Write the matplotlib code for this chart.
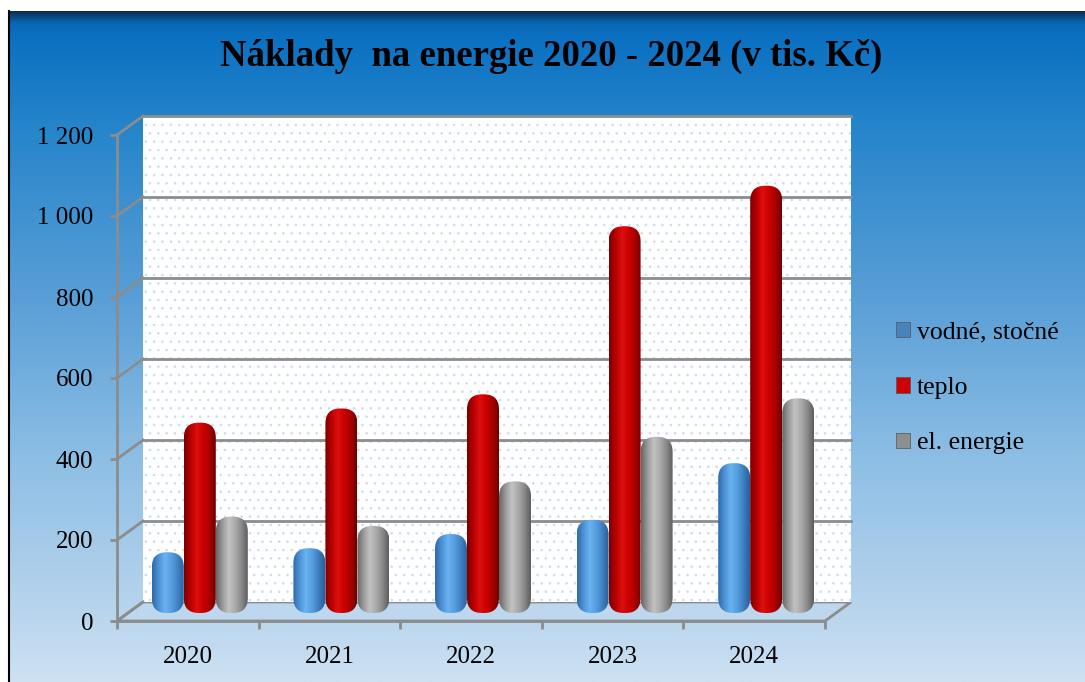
import matplotlib.pyplot as plt
import numpy as np
from matplotlib.colors import LinearSegmentedColormap, to_rgb
from matplotlib.patches import FancyBboxPatch, Polygon, Patch
from matplotlib.lines import Line2D

# data (v tis. Kč)
years = ['2020', '2021', '2022', '2023', '2024']
vodne = [150, 160, 195, 230, 370]
teplo = [470, 505, 540, 955, 1055]
el_energie = [238, 215, 325, 435, 530]
series_names = ['vodné, stočné', 'teplo', 'el. energie']
yticks = [0, 200, 400, 600, 800, 1000, 1200]

W, H = 1085, 682
fig = plt.figure(figsize=(W / 100, H / 100), dpi=100)
fig.patch.set_facecolor('white')
serif = ['Liberation Serif', 'DejaVu Serif']
plt.rcParams['hatch.linewidth'] = 0.6

# background gradient
bg = fig.add_axes([8 / W, 0, 1 - 8 / W, (H - 11) / H])
bg.set_axis_off()
stops = [(0, '#0b2f55'), (11, '#0a66b3'), (24, '#0a70c2'), (110, '#2484ca'),
         (290, '#5a9fd7'), (440, '#8bbde4'), (590, '#b5d3ec'), (671, '#cde1f3')]
rows = np.linspace(0, 671, 400)
grad = np.array([[np.interp(r, [s[0] for s in stops], [to_rgb(s[1])[k] for s in stops])
                  for k in range(3)] for r in rows])
bg.imshow(grad[:, None, :], extent=[0, 1, 0, 1], aspect='auto')
fig.add_artist(Line2D([8.5 / W, 8.5 / W], [0, (H - 11) / H], color='black', lw=1.5))

# front plane of the 3d plot
x0, x1, yb, yt = 117, 825, 621, 135
ax = fig.add_axes([x0 / W, (H - yb) / H, (x1 - x0) / W, (yb - yt) / H])
ax.set_xlim(0, 5)
ax.set_ylim(0, 1200)
ax.patch.set_alpha(0)
px_x = 5 / (x1 - x0)
px_y = 1200 / (yb - yt)
DX, DY = 26 * px_x, 19 * px_y     # depth of the box
MX, MY = 12 * px_x, 8 * px_y      # bars stand in the middle
gray = '#8c8c8c'

# floor
ax.add_patch(Polygon([(0, 0), (5, 0), (5 + DX, DY), (DX, DY)], closed=True,
                     facecolor='#bcd7ee', edgecolor=gray, lw=2, zorder=1, clip_on=False))
# back wall with dots
ax.add_patch(plt.Rectangle((DX, DY), 5, 1200, facecolor='white', lw=0, zorder=1, clip_on=False))
ax.add_patch(plt.Rectangle((DX, DY), 5, 1200, facecolor='none', edgecolor='#c9dbf5',
                           lw=0, hatch='..', zorder=1.1, clip_on=False))
for v in yticks[1:]:
    ax.plot([DX, 5 + DX], [v + DY, v + DY], color=gray, lw=2, zorder=1.5, clip_on=False)
for v in yticks:
    ax.plot([0, DX], [v, v + DY], color=gray, lw=2, zorder=1.5, clip_on=False)

# axes
for s in ['top', 'right']:
    ax.spines[s].set_visible(False)
for s in ['left', 'bottom']:
    ax.spines[s].set_color(gray)
    ax.spines[s].set_linewidth(2)
ax.set_yticks(yticks, [f'{v:,}'.replace(',', ' ') for v in yticks])
ax.set_xticks(np.arange(5) + 0.5, years)
ax.set_xticks(np.arange(6), minor=True)
ax.tick_params(axis='y', length=5, width=2, color=gray, pad=12, labelsize=18)
ax.tick_params(axis='x', which='major', length=0, pad=18, labelsize=18)
ax.tick_params(axis='x', which='minor', length=6, width=2, color=gray)
for lab in ax.get_xticklabels() + ax.get_yticklabels():
    lab.set_fontfamily(serif)

# cylinders
bw = 32 * px_x
shades = {
    'vodné, stočné': ['#2f6aa8', '#4d92d6', '#6ab2ef', '#559edf', '#3f80c2', '#2a5f98'],
    'teplo': ['#7a0000', '#b80000', '#dd0f0f', '#cc0000', '#a80000', '#700000'],
    'el. energie': ['#666666', '#9a9a9a', '#c2c2c2', '#aaaaaa', '#8a8a8a', '#5e5e5e'],
}
xs = np.arange(5) + 0.5 + MX
for k, (name, vals) in enumerate(zip(series_names, [vodne, teplo, el_energie])):
    cmap = LinearSegmentedColormap.from_list(name, shades[name])
    bars = ax.bar(xs + (k - 1) * bw, vals, bw, bottom=MY, color='none', lw=0)
    for b in bars:
        bx, by, bwid, bh = b.get_x(), b.get_y(), b.get_width(), b.get_height()
        shape = FancyBboxPatch((bx, by), bwid, bh,
                               boxstyle=f'round,pad=0,rounding_size={15 * px_x}',
                               mutation_aspect=px_y / px_x, transform=ax.transData,
                               facecolor='none', lw=0, zorder=3)
        ax.add_patch(shape)
        im = ax.imshow(np.linspace(0, 1, 64)[None, :], cmap=cmap, aspect='auto',
                       extent=[bx, bx + bwid, by, by + bh], zorder=2.5)
        im.set_clip_path(shape)
ax.set_xlim(0, 5)
ax.set_ylim(0, 1200)

# title
fig.text(551 / W, 1 - 56 / H, 'Náklady  na energie 2020 - 2024 (v tis. Kč)',
         ha='center', va='center', fontsize=26.5, fontweight='bold', family=serif)

# legend
handles = [Patch(facecolor=c, edgecolor='#555555', lw=0.5)
           for c in ['#4a82bb', '#d00000', '#8e8e8e']]
fig.legend(handles, series_names, loc='center left', bbox_to_anchor=(873 / W, 1 - 388 / H),
           frameon=False, prop={'family': serif, 'size': 18.5}, handlelength=0.55,
           handleheight=0.55, handletextpad=0.25, labelspacing=1.3)

fig.savefig('out.png', dpi=100)
